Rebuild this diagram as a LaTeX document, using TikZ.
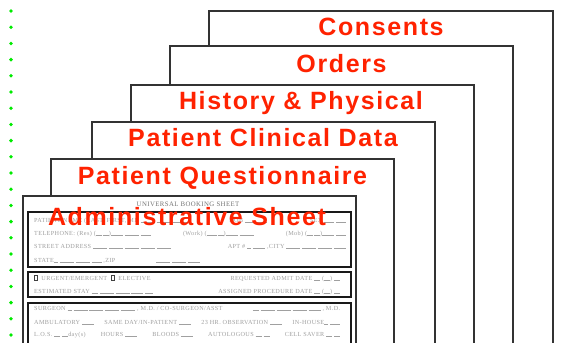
\documentclass[tikz,border=0pt]{standalone}
\usepackage{fontspec}
\setmainfont{Liberation Serif}
\newfontfamily\titlefont[LetterSpace=6.5]{Liberation Sans}
\newfontfamily\formfont[LetterSpace=6]{Liberation Serif}

\definecolor{titlered}{RGB}{255,34,0}
\definecolor{dotgreen}{RGB}{0,235,0}
\definecolor{formgray}{RGB}{160,160,160}

% blank to fill in, and a tick box
\newcommand{\fb}[1]{\rule[-0.6pt]{#1pt}{0.4pt}}
\newcommand{\tickbox}{{\color{black!75}\fboxsep=0pt\fboxrule=0.7pt\fbox{\rule{0pt}{4.5pt}\hspace{2pt}}}}

\tikzset{
  sheet/.style={draw=black!80, line width=1.4pt, fill=white},
  sheettitle/.style={anchor=base, text=titlered,
    font=\titlefont\bfseries\fontsize{25}{25}\selectfont},
  formbox/.style={draw=black!90, line width=1.5pt},
  formline/.style={anchor=base west, inner sep=0pt, text=formgray,
    font=\formfont\fontsize{6.2}{6.2}\selectfont},
}

\begin{document}
\begin{tikzpicture}[x=1pt, y=-1pt]
        \useasboundingbox (0,0) rectangle (571,343);
        \clip (0,0) rectangle (571,343);

        % Green dotted margin
        \foreach \i in {0,...,20}
            \fill[dotgreen] (11,11+16.2*\i) circle (1.9);

        % Consents (back sheet)
        \draw[sheet] (209,11) rectangle (553,360);
        \node[sheettitle] (consents) at (381,35) {Consents};

        % Orders
        \draw[sheet] (170,46) rectangle (513,360);
        \node[sheettitle] (orders) at (341.5,72) {Orders};

        % History & Physical
        \draw[sheet] (131,85) rectangle (474,360);
        \node[sheettitle] (history) at (301,109) {History \& Physical};

        % Patient Clinical Data
        \draw[sheet] (92,122) rectangle (435,360);
        \node[sheettitle] (clinical) at (263,146) {Patient Clinical Data};

        % Patient Questionnaire
        \draw[sheet] (51,159) rectangle (394,360);
        \node[sheettitle] (questionnaire) at (222.5,184) {Patient Questionnaire};

        % Administrative Sheet (front): the booking form
        \draw[sheet, line width=1.2pt] (23,196) rectangle (356,360);
        \node[formline, anchor=base, text=black!55,
              font=\formfont\fontsize{6.8}{6.8}\selectfont] (formtitle) at (188,206)
            {UNIVERSAL BOOKING SHEET};

        % form part 1: patient
        \draw[formbox] (28,212) rectangle (351,267);
        \node[formline] (name) at (34,222) {\hbox to 312pt{PATIENT NAME (LAST, FIRST, MI) \fb{14}\ \fb{14}\ \fb{14} \hfill DOB \fb{10}\ \fb{10} \hfill SEX \fb{10}\ \fb{10}}};
        \node[formline] (phone) at (34,235) {\hbox to 312pt{TELEPHONE: (Res) (\fb{6}\,\fb{6})\fb{12}\ \fb{14}\ \fb{10} \hfill (Work) (\fb{10}\,\fb{6})\fb{12}\ \fb{14} \hfill (Mob) (\fb{6}\,\fb{6})\fb{12}\ \fb{10}}};
        \node[formline] (street) at (34,248) {\hbox to 312pt{STREET ADDRESS \fb{14}\ \fb{14}\ \fb{14}\ \fb{14}\ \fb{14} \hfill APT \# \fb{4}\ \fb{12}\ ,CITY \fb{14}\ \fb{14}\ \fb{14}\ \fb{12}}};
        \node[formline] (state) at (34,262) {\hbox to 166pt{STATE\fb{4}\ \fb{14}\ \fb{14}\ \fb{10} ,ZIP \hfill \fb{14}\ \fb{14}\ \fb{12}}};

        % form part 2: admission
        \draw[formbox] (28,272) rectangle (351,297);
        \node[formline] (urgent) at (34,280) {\hbox to 306pt{\tickbox\ \ URGENT/EMERGENT\ \ \tickbox\ \ ELECTIVE \hfill REQUESTED ADMIT DATE \fb{6}\ (\fb{6})\ \fb{6}}};
        \node[formline] (stay) at (34,293) {\hbox to 306pt{ESTIMATED STAY \fb{6}\ \fb{14}\ \fb{14}\ \fb{12}\ \fb{8} \hfill ASSIGNED PROCEDURE DATE \fb{6}\ (\fb{6})\ \fb{6}}};

        % form part 3: procedure
        \draw[formbox] (28,303) rectangle (351,360);
        \node[formline] (surgeon) at (34,310) {\hbox to 306pt{SURGEON \fb{4}\ \fb{14}\ \fb{14}\ \fb{14}\ \fb{14} , M.D. / CO-SURGEON/ASST \hfill \fb{6}\ \fb{14}\ \fb{14}\ \fb{14}\ \fb{12} , M.D.}};
        \node[formline] (ambulatory) at (34,324) {\hbox to 306pt{AMBULATORY \fb{12} \hfill SAME DAY/IN-PATIENT \fb{12} \hfill 23 HR.\ OBSERVATION \fb{12} \hfill IN-HOUSE\fb{4}\ \fb{10}}};
        \node[formline] (los) at (34,336) {\hbox to 306pt{L.O.S. \fb{6}\ \fb{6}day(s) \hfill HOURS \fb{12} \hfill BLOODS \fb{12} \hfill AUTOLOGOUS \fb{6}\ \fb{6} \hfill CELL SAVER \fb{6}\ \fb{6}}};

        \node[sheettitle] (admin) at (187,225) {Administrative Sheet};
    \end{tikzpicture}
\end{document}
